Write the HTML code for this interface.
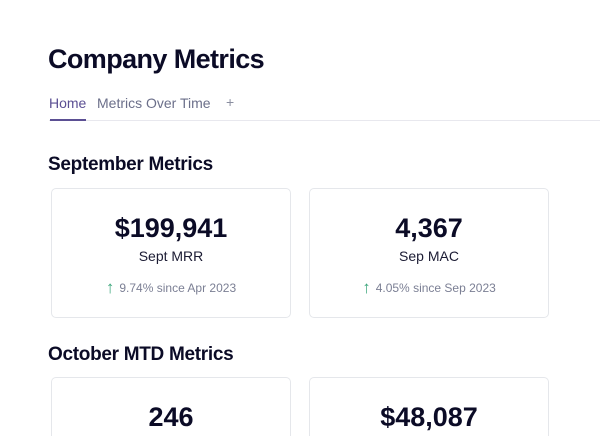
<!DOCTYPE html>
<html><head><style>
html,body{margin:0;width:600px;height:436px;overflow:hidden}
body{background:#fff;font-family:"Liberation Sans",sans-serif;color:#0b0b26;position:relative}
.a{position:absolute;white-space:nowrap}
.card{position:absolute;width:240px;height:130px;border:1px solid #e5e7eb;border-radius:5px;box-sizing:border-box;background:#fff;overflow:hidden}
.card.b{height:59px;border-bottom:none;border-radius:5px 5px 0 0}
.v{position:absolute;left:0;right:0;text-align:center;font-weight:bold;font-size:27px;top:24px}
.l{position:absolute;left:0;right:0;text-align:center;font-size:14px;top:59px;color:#1b1b33}
.d{position:absolute;left:0;right:0;text-align:center;font-size:12px;top:89px;color:#7b7f94}
.d span{color:#3aa57a;font-size:17px;margin-right:5px;vertical-align:-1px}
</style></head><body>
<div class="a" style="left:48px;top:44px;font-size:27px;font-weight:bold;letter-spacing:-0.6px">Company Metrics</div>
<div class="a" style="left:49px;top:95px;font-size:14px;color:#5b4f93">Home</div>
<div class="a" style="left:97px;top:95px;font-size:14px;color:#6b6f8a">Metrics Over Time</div>
<div class="a" style="left:226px;top:94px;font-size:14px;color:#8a8ea0">+</div>
<div class="a" style="left:49px;top:120px;width:551px;height:1px;background:#e8e8ee"></div>
<div class="a" style="left:50px;top:119px;width:36px;height:2px;background:#5b4f93"></div>
<div class="a" style="left:48px;top:154px;font-size:19px;font-weight:bold;letter-spacing:-0.3px">September Metrics</div>
<div class="card" style="left:51px;top:188px"><div class="v">$199,941</div><div class="l">Sept MRR</div><div class="d"><span>↑</span>9.74% since Apr 2023</div></div>
<div class="card" style="left:309px;top:188px"><div class="v">4,367</div><div class="l">Sep MAC</div><div class="d"><span>↑</span>4.05% since Sep 2023</div></div>
<div class="a" style="left:48px;top:344px;font-size:19px;font-weight:bold;letter-spacing:-0.3px">October MTD Metrics</div>
<div class="card b" style="left:51px;top:377px"><div class="v">246</div></div>
<div class="card b" style="left:309px;top:377px"><div class="v">$48,087</div></div>
</body></html>
